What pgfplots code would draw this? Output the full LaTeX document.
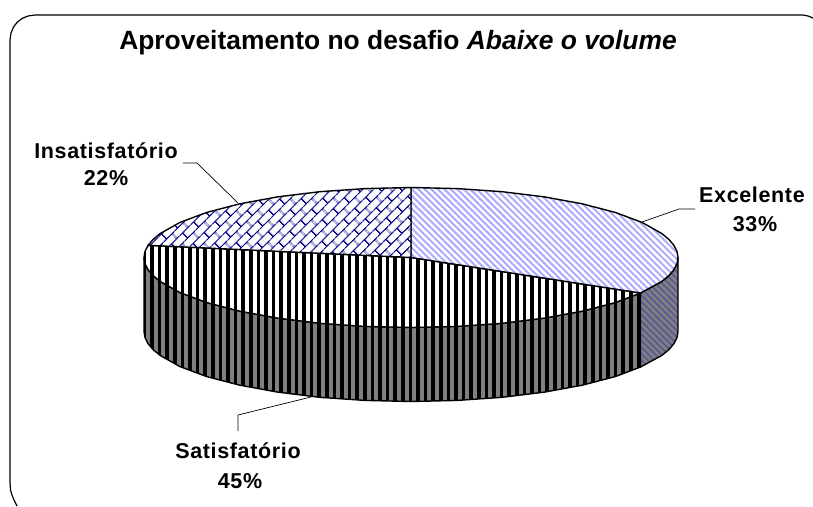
\documentclass[border=0pt]{standalone}
\usepackage{fontspec}
\setmainfont{Liberation Sans}
\usepackage{pgfplots}
\pgfplotsset{compat=1.18}
\usepackage{pgfplotstable}
\usetikzlibrary{patterns.meta}
\newfontfamily\labf[LetterSpace=3]{Liberation Sans}
\definecolor{lblue}{RGB}{172,172,255}
\definecolor{sblue}{RGB}{88,88,150}
\definecolor{navy}{RGB}{10,10,140}
\tikzdeclarepattern{name=shingle,type=uncolored,
 bottom left={(0pt,0pt)},top right={(16pt,15.6pt)},
 tile size={(16pt,15.6pt)},tile transformation={rotate=45},
 code={\pgfsetlinewidth{1.3pt}
  \pgfpathmoveto{\pgfqpoint{0pt}{3.9pt}}\pgfpathlineto{\pgfqpoint{16pt}{3.9pt}}
  \pgfpathmoveto{\pgfqpoint{0pt}{11.7pt}}\pgfpathlineto{\pgfqpoint{16pt}{11.7pt}}
  \pgfpathmoveto{\pgfqpoint{4pt}{3.9pt}}\pgfpathlineto{\pgfqpoint{4pt}{11.7pt}}
  \pgfpathmoveto{\pgfqpoint{12pt}{11.7pt}}\pgfpathlineto{\pgfqpoint{12pt}{15.6pt}}
  \pgfpathmoveto{\pgfqpoint{12pt}{0pt}}\pgfpathlineto{\pgfqpoint{12pt}{3.9pt}}
  \pgfusepath{stroke}}}
\pgfplotstableread{
x y
411 257.5
148.1 245.3
153.1 239.4
160.1 233.6
179.8 222.5
206.5 212.5
239.4 203.9
277.5 196.9
319.7 191.7
364.6 188.6
411 187.5
411 257.5
}\insattop
\pgfplotstableread{
x y
411 257.5
411 187.5
457.4 188.6
502.3 191.7
544.5 196.9
582.6 203.9
615.5 212.5
642.2 222.5
661.9 233.6
668.9 239.4
673.9 245.3
677 251.4
678 257.5
677 263.6
673.9 269.7
668.9 275.6
661.9 281.4
640.5 293
411 257.5
}\exceltop
\pgfplotstableread{
x y
411 257.5
640.5 293
615.5 302.5
582.6 311.1
544.5 318.1
502.3 323.3
457.4 326.4
411 327.5
364.6 326.4
319.7 323.3
277.5 318.1
239.4 311.1
206.5 302.5
179.8 292.5
160.1 281.4
153.1 275.6
148.1 269.7
145 263.6
144 257.5
145 251.4
148.1 245.3
411 257.5
}\satistop
\pgfplotstableread{
x y
144 257.5
145 263.6
148.1 269.7
153.1 275.6
160.1 281.4
179.8 292.5
206.5 302.5
239.4 311.1
277.5 318.1
319.7 323.3
364.6 326.4
411 327.5
457.4 326.4
502.3 323.3
544.5 318.1
582.6 311.1
615.5 302.5
640.5 293
640.5 367
615.5 376.5
582.6 385.1
544.5 392.1
502.3 397.3
457.4 400.4
411 401.5
364.6 400.4
319.7 397.3
277.5 392.1
239.4 385.1
206.5 376.5
179.8 366.5
160.1 355.4
153.1 349.6
148.1 343.7
145 337.6
144 331.5
144 257.5
}\satisside
\pgfplotstableread{
x y
640.5 293
661.9 281.4
668.9 275.6
673.9 269.7
677 263.6
678 257.5
678 331.5
677 337.6
673.9 343.7
668.9 349.6
661.9 355.4
640.5 367
640.5 293
}\excelside
\begin{document}
\begin{tikzpicture}
\begin{axis}[at={(0pt,0pt)},anchor=south west,scale only axis,width=813pt,height=506pt,
  xmin=0,xmax=813,ymin=0,ymax=506,y dir=reverse,axis lines=none,clip=true,
  every axis plot/.append style={line join=round}]
% background
\addplot[fill=white,draw=none] coordinates {(0,0)(813,0)(813,506)(0,506)(0,0)};
% frame
\addplot[black,line width=1.2pt] coordinates {(17,506)(14,500)(12,495)(10.5,490)(10,482)(10,40)(11,33)(13.5,27)(17,22.5)(22,18.5)(28,16)(35,15)(803,15)(808,16)(813,18)};
% sides
\addplot[fill=gray,draw=none] table {\satisside};
\addplot[draw=none,pattern={Lines[angle=90,distance=7.6pt,line width=3.5pt]},pattern color=black] table {\satisside};
\addplot[black,line width=1.4pt] table {\satisside};
\addplot[fill=gray,draw=none] table {\excelside};
\addplot[draw=none,pattern={Lines[angle=-45,distance=4.6pt,line width=1.7pt]},pattern color=sblue] table {\excelside};
\addplot[black,line width=1.4pt] table {\excelside};
% tops
\addplot[fill=white,draw=none] table {\satistop};
\addplot[draw=none,pattern={Lines[angle=90,distance=7.6pt,line width=3.5pt]},pattern color=black] table {\satistop};
\addplot[black,line width=1.4pt] table {\satistop};
\addplot[fill=white,draw=none] table {\exceltop};
\addplot[draw=none,pattern={Lines[angle=-45,distance=4.6pt,line width=2pt]},pattern color=lblue] table {\exceltop};
\addplot[black,line width=1.4pt] table {\exceltop};
\addplot[fill=white,draw=none] table {\insattop};
\addplot[draw=none,pattern=shingle,pattern color=navy] table {\insattop};
\addplot[black,line width=1.4pt] table {\insattop};
% leaders
\addplot[black,line width=.7pt] coordinates {(183,163)(197,163)(238,203)};
\addplot[black,line width=.7pt] coordinates {(695,209)(679,209)(642,222)};
\addplot[black,line width=.7pt] coordinates {(238,431)(238,415)(311,397)};
% text
\node[anchor=center,font=\fontsize{26.4}{30}\selectfont\bfseries] at (axis cs:398,43) {Aproveitamento no desafio \textit{Abaixe o volume}};
\node[anchor=center,font=\fontsize{21.5}{25}\selectfont\bfseries\labf] at (axis cs:106,151) {Insatisfatório};
\node[anchor=center,font=\fontsize{21.5}{25}\selectfont\bfseries\labf] at (axis cs:106,178) {22\%};
\node[anchor=center,font=\fontsize{21.5}{25}\selectfont\bfseries\labf] at (axis cs:752,195) {Excelente};
\node[anchor=center,font=\fontsize{21.5}{25}\selectfont\bfseries\labf] at (axis cs:755,224) {33\%};
\node[anchor=center,font=\fontsize{21.5}{25}\selectfont\bfseries\labf] at (axis cs:238,451) {Satisfatório};
\node[anchor=center,font=\fontsize{21.5}{25}\selectfont\bfseries\labf] at (axis cs:240,481) {45\%};
\end{axis}
\end{tikzpicture}
\end{document}
